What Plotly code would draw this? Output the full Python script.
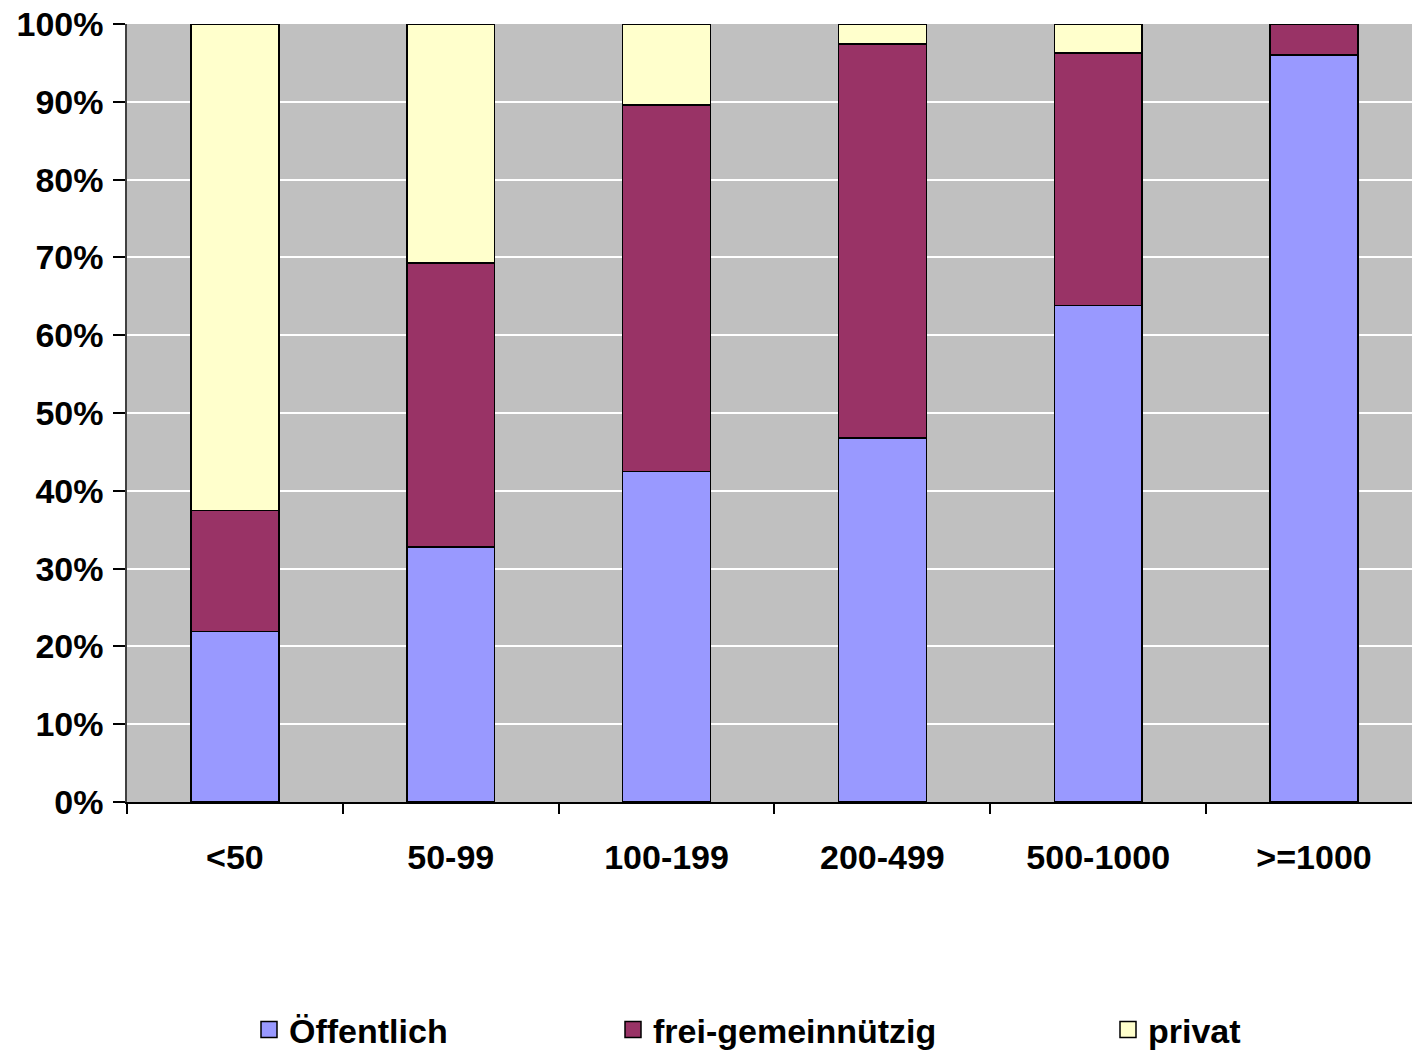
import plotly.graph_objects as go

categories = ["<50", "50-99", "100-199", "200-499", "500-1000", ">=1000"]
oeffentlich = [21.9, 32.8, 42.5, 46.8, 63.8, 96.0]
frei = [15.6, 36.5, 47.1, 50.6, 32.5, 4.0]
privat = [62.5, 30.7, 10.4, 2.6, 3.7, 0.0]

names = ["Öffentlich", "frei-gemeinnützig", "privat"]
colors = ["#9999FF", "#993366", "#FFFFCC"]
series = [oeffentlich, frei, privat]
legends = ["legend", "legend2", "legend3"]

FAM = "Liberation Sans, Arial, sans-serif"

fig = go.Figure()
for name, col, vals in zip(names, colors, series):
    fig.add_trace(go.Bar(
        x=categories, y=[v / 100 for v in vals], name=name,
        marker=dict(color=col, line=dict(color="black", width=1.5)),
        showlegend=False, legendgroup=name,
    ))
# legend entries (square swatches)
for name, col, lg in zip(names, colors, legends):
    fig.add_trace(go.Scatter(
        x=[None], y=[None], mode="markers", name=name, legend=lg, legendgroup=name,
        marker=dict(symbol="square", size=22, color=col, line=dict(color="black", width=1.5)),
        showlegend=True, hoverinfo="skip",
    ))

def leg(xpx):
    return dict(x=xpx / 1412, y=(1055 - 1030) / 1055, xref="container", yref="container",
                xanchor="left", yanchor="middle", itemsizing="trace",
                font=dict(family=FAM, size=34, color="black", weight="bold"),
                bgcolor="rgba(0,0,0,0)", itemwidth=30)

fig.update_layout(
    barmode="stack",
    bargap=0.593,
    width=1412, height=1055,
    margin=dict(l=127, r=0, t=24, b=253, autoexpand=False),
    paper_bgcolor="white",
    plot_bgcolor="#C0C0C0",
    font=dict(family=FAM, size=34, color="black"),
    showlegend=True,
    legend=leg(249),
    legend2=leg(613),
    legend3=leg(1108),
    xaxis=dict(
        range=[-0.5, 5.454], automargin=False,
        showline=True, linecolor="black", linewidth=1.5,
        ticks="outside", tickson="boundaries", ticklen=10, tickcolor="black", tickwidth=1.5,
        showgrid=False,
        tickfont=dict(family=FAM, size=34, color="black", weight="bold"),
        ticklabelstandoff=24,
    ),
    yaxis=dict(
        range=[0, 1], dtick=0.1, tickformat=".0%", automargin=False,
        showline=True, linecolor="#404040", linewidth=1.5,
        ticks="outside", ticklen=12, tickcolor="black", tickwidth=1.5,
        showgrid=True, gridcolor="white", gridwidth=1.5,
        zeroline=False,
        tickfont=dict(family=FAM, size=34, color="black", weight="bold"),
        ticklabelstandoff=3,
    ),
)

fig.write_html("out.html", config={"displayModeBar": False},
               post_script="document.body.style.margin='0px';")
